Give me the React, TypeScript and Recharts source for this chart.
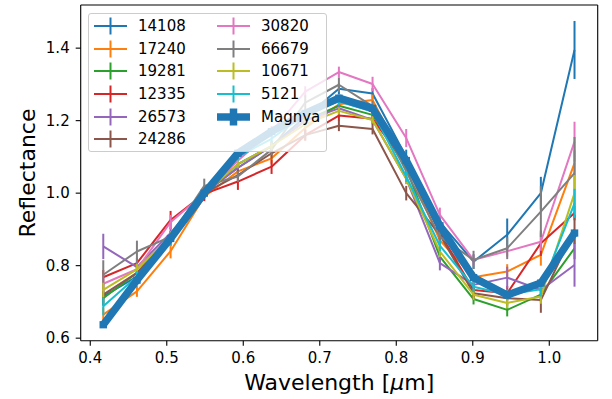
import React from 'react'
import { LineChart, Line, XAxis, YAxis, ErrorBar, Label } from 'recharts'

// filter centres (micron)
const WAVELENGTH = [0.417, 0.461, 0.505, 0.549, 0.593, 0.637, 0.681, 0.725, 0.769, 0.813, 0.857, 0.901, 0.945, 0.989, 1.033]

// reflectance, normalised at 0.55 micron
const R_14108 = [0.715, 0.77, 0.87, 1.0, 1.08, 1.13, 1.21, 1.288, 1.275, 1.1, 0.92, 0.811, 0.885, 1.0, 1.395]
const R_17240 = [0.665, 0.729, 0.84, 0.99, 1.06, 1.096, 1.18, 1.245, 1.257, 1.08, 0.87, 0.768, 0.784, 0.83, 1.083]
const R_19281 = [0.71, 0.78, 0.88, 1.0, 1.07, 1.13, 1.2, 1.241, 1.216, 1.069, 0.825, 0.708, 0.678, 0.72, 0.848]
const R_12335 = [0.768, 0.807, 0.926, 0.998, 1.032, 1.073, 1.16, 1.214, 1.205, 1.08, 0.89, 0.733, 0.724, 0.862, 0.945]
const R_26573 = [0.853, 0.796, 0.89, 1.0, 1.07, 1.13, 1.2, 1.234, 1.202, 1.04, 0.807, 0.747, 0.767, 0.733, 0.802]
const R_24286 = [0.72, 0.78, 0.88, 1.0, 1.05, 1.11, 1.16, 1.186, 1.177, 1.0, 0.885, 0.724, 0.71, 0.705, 0.9]
const R_30820 = [0.75, 0.79, 0.92, 1.0, 1.09, 1.17, 1.28, 1.334, 1.301, 1.152, 0.94, 0.816, 0.84, 0.866, 1.142]
const R_66679 = [0.775, 0.839, 0.88, 1.02, 1.046, 1.12, 1.25, 1.299, 1.24, 1.06, 0.88, 0.816, 0.848, 0.949, 1.055]
const R_10671 = [0.733, 0.79, 0.88, 1.0, 1.08, 1.13, 1.19, 1.227, 1.202, 1.04, 0.839, 0.72, 0.697, 0.715, 1.0]
const R_5121 = [0.688, 0.77, 0.87, 1.0, 1.1, 1.15, 1.22, 1.253, 1.225, 1.046, 0.855, 0.742, 0.72, 0.735, 0.972]
const R_MAGNYA = [0.637, 0.76, 0.875, 1.0, 1.11, 1.17, 1.22, 1.262, 1.234, 1.09, 0.91, 0.767, 0.719, 0.752, 0.89]

// 1-sigma errors
const E_14108 = [0.02, 0.015, 0.015, 0.01, 0.01, 0.015, 0.015, 0.015, 0.015, 0.02, 0.02, 0.02, 0.045, 0.045, 0.08]
const E_17240 = [0.02, 0.015, 0.02, 0.01, 0.015, 0.015, 0.015, 0.015, 0.015, 0.02, 0.02, 0.015, 0.02, 0.03, 0.035]
const E_19281 = [0.02, 0.015, 0.015, 0.01, 0.01, 0.01, 0.01, 0.01, 0.01, 0.015, 0.015, 0.015, 0.018, 0.02, 0.03]
const E_12335 = [0.02, 0.015, 0.025, 0.02, 0.023, 0.02, 0.015, 0.015, 0.015, 0.02, 0.02, 0.02, 0.02, 0.035, 0.02]
const E_26573 = [0.035, 0.015, 0.015, 0.01, 0.01, 0.01, 0.01, 0.01, 0.01, 0.015, 0.02, 0.02, 0.03, 0.03, 0.06]
const E_24286 = [0.03, 0.015, 0.015, 0.01, 0.015, 0.015, 0.015, 0.015, 0.015, 0.02, 0.025, 0.015, 0.02, 0.035, 0.04]
const E_30820 = [0.02, 0.015, 0.02, 0.01, 0.015, 0.015, 0.015, 0.015, 0.02, 0.025, 0.02, 0.015, 0.015, 0.025, 0.055]
const E_66679 = [0.04, 0.03, 0.015, 0.02, 0.015, 0.015, 0.02, 0.02, 0.015, 0.02, 0.02, 0.025, 0.03, 0.07, 0.1]
const E_10671 = [0.02, 0.015, 0.015, 0.01, 0.01, 0.01, 0.01, 0.01, 0.01, 0.015, 0.015, 0.015, 0.015, 0.02, 0.05]
const E_5121 = [0.025, 0.015, 0.015, 0.01, 0.01, 0.01, 0.01, 0.01, 0.01, 0.015, 0.015, 0.015, 0.015, 0.02, 0.04]
const E_MAGNYA = [0.01, 0.01, 0.01, 0.01, 0.01, 0.01, 0.01, 0.01, 0.01, 0.01, 0.01, 0.01, 0.01, 0.01, 0.01]

const SERIES = [
  { name: '14108', color: '#1f77b4', values: R_14108, errors: E_14108 },
  { name: '17240', color: '#ff7f0e', values: R_17240, errors: E_17240 },
  { name: '19281', color: '#2ca02c', values: R_19281, errors: E_19281 },
  { name: '12335', color: '#d62728', values: R_12335, errors: E_12335 },
  { name: '26573', color: '#9467bd', values: R_26573, errors: E_26573 },
  { name: '24286', color: '#8c564b', values: R_24286, errors: E_24286 },
  { name: '30820', color: '#e377c2', values: R_30820, errors: E_30820 },
  { name: '66679', color: '#7f7f7f', values: R_66679, errors: E_66679 },
  { name: '10671', color: '#bcbd22', values: R_10671, errors: E_10671 },
  { name: '5121', color: '#17becf', values: R_5121, errors: E_5121 },
  { name: 'Magnya', color: '#1f77b4', values: R_MAGNYA, errors: E_MAGNYA, thick: true },
]

const X_TICKS = [0.4, 0.5, 0.6, 0.7, 0.8, 0.9, 1.0]
const Y_TICKS = [0.6, 0.8, 1.0, 1.2, 1.4]
const X_DOMAIN = [0.3875, 1.0633]
const Y_DOMAIN = [0.593, 1.519]

const FONT = '"DejaVu Sans", sans-serif'

const data = WAVELENGTH.map((w, i) => {
  const row: Record<string, number> = { w }
  SERIES.forEach((s, k) => {
    row[`s${k}`] = s.values[i]
    row[`e${k}`] = s.errors[i]
  })
  return row
})

function LegendBox() {
  const rowY = (r: number) => 12 + r * 22.67
  return (
    <div
      style={{
        position: 'absolute', left: 88, top: 13, width: 239, height: 139,
        border: '1px solid #cccccc', borderRadius: 3, boxSizing: 'border-box',
        background: 'rgba(255,255,255,0.8)', fontFamily: FONT, fontSize: 15, color: '#000',
      }}
    >
      {SERIES.map((s, i) => {
        const col = i < 6 ? 0 : 1
        const r = i < 6 ? i : i - 6
        const hx = col === 0 ? 4.5 : 128
        const lx = col === 0 ? 49 : 172
        const y = rowY(r)
        const lw = s.thick ? 7.5 : 2
        return (
          <React.Fragment key={s.name}>
            <svg style={{ position: 'absolute', left: hx, top: y - 10 }} width={34} height={20}>
              <line x1={0} x2={33} y1={10} y2={10} stroke={s.color} strokeWidth={lw} />
              <line x1={16.5} x2={16.5} y1={1.5} y2={18.5} stroke={s.color} strokeWidth={lw} />
            </svg>
            <span style={{ position: 'absolute', left: lx, top: y - 10, lineHeight: '20px', whiteSpace: 'nowrap' }}>
              {s.name}
            </span>
          </React.Fragment>
        )
      })}
    </div>
  )
}

export default function App() {
  return (
    <div style={{ position: 'absolute', left: 0, top: 0, width: 612, height: 399, background: '#fff' }}>
      <LineChart width={612} height={399} data={data} margin={{ top: 4, right: 13.3, bottom: 0, left: 0 }}>
        <XAxis
          dataKey="w"
          type="number"
          domain={X_DOMAIN}
          ticks={X_TICKS}
          allowDataOverflow
          tickFormatter={(v) => Number(v).toFixed(1)}
          height={58.3}
          tickSize={5}
          tickMargin={7}
          tick={{ fill: '#000', fontSize: 15, fontFamily: FONT }}
          tickLine={{ stroke: '#000', strokeWidth: 1.1 }}
          axisLine={{ stroke: '#000', strokeWidth: 1.1 }}
        >
          <Label
            content={() => (
              <text x={339.2} y={390} textAnchor="middle" fontSize={22} fontFamily={FONT} fill="#000">
                Wavelength [<tspan fontStyle="italic">μ</tspan>m]
              </text>
            )}
          />
        </XAxis>
        <XAxis
          xAxisId="top"
          orientation="top"
          dataKey="w"
          type="number"
          domain={X_DOMAIN}
          ticks={X_TICKS}
          allowDataOverflow
          height={1}
          tick={false}
          tickLine={false}
          axisLine={{ stroke: '#000', strokeWidth: 1.1 }}
        />
        <YAxis
          type="number"
          domain={Y_DOMAIN}
          ticks={Y_TICKS}
          allowDataOverflow
          tickFormatter={(v) => Number(v).toFixed(1)}
          width={80.7}
          tickSize={5}
          tickMargin={6}
          tick={{ fill: '#000', fontSize: 15, fontFamily: FONT }}
          tickLine={{ stroke: '#000', strokeWidth: 1.1 }}
          axisLine={{ stroke: '#000', strokeWidth: 1.1 }}
        >
          <Label
            content={() => (
              <text
                x={35}
                y={173}
                transform="rotate(-90, 35, 173)"
                textAnchor="middle"
                fontSize={22}
                fontFamily={FONT}
                fill="#000"
              >
                Reflectance
              </text>
            )}
          />
        </YAxis>
        <YAxis
          yAxisId="right"
          orientation="right"
          type="number"
          domain={Y_DOMAIN}
          ticks={Y_TICKS}
          allowDataOverflow
          width={1}
          tick={false}
          tickLine={false}
          axisLine={{ stroke: '#000', strokeWidth: 1.1 }}
        />
        {SERIES.map((s, k) => (
          <Line
            key={s.name}
            dataKey={`s${k}`}
            stroke={s.color}
            strokeWidth={s.thick ? 7.5 : 2}
            strokeLinejoin="round"
            dot={false}
            activeDot={false}
            isAnimationActive={false}
          >
            <ErrorBar
              dataKey={`e${k}`}
              direction="y"
              width={0}
              stroke={s.color}
              strokeWidth={s.thick ? 7.5 : 2}
              isAnimationActive={false}
            />
          </Line>
        ))}
      </LineChart>
      <LegendBox />
    </div>
  )
}
